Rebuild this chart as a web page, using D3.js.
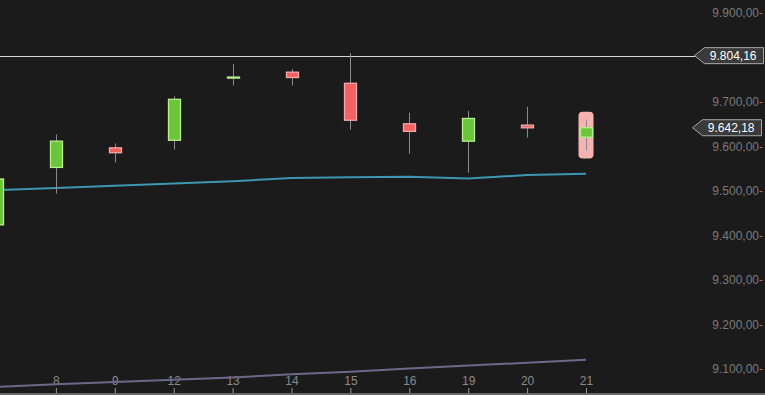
<!DOCTYPE html>
<html>
<head>
<meta charset="utf-8">
<script src="https://cdn.jsdelivr.net/npm/d3@7"></script>
<style>
  html, body { margin: 0; padding: 0; background: #1c1b1b; }
  svg { display: block; }
</style>
</head>
<body>
<svg id="chart" width="765" height="395"></svg>
<script>
// data
const days = ["7", "8", "9", "12", "13", "14", "15", "16", "19", "20", "21"];
const opens = [9424, 9553, 9597, 9614, 9754, 9767, 9742, 9651, 9612, 9648, 9621];
const highs = [9527, 9627, 9607, 9713, 9785, 9774, 9810, 9676, 9680, 9689, 9660];
const lows = [9424, 9494, 9564, 9593, 9737, 9737, 9638, 9584, 9541, 9620, 9591];
const closes = [9527, 9612, 9586, 9706, 9756, 9755, 9659, 9634, 9663, 9642, 9642.18];
const maFast = [9502, 9507, 9512, 9517, 9522, 9529, 9531, 9532, 9528, 9536, 9539];
const maSlow = [9060, 9066, 9071, 9076, 9081, 9088, 9094, 9101, 9108, 9114, 9121];
const yTicks = [9100, 9200, 9300, 9400, 9500, 9600, 9700, 9900];
const refLevel = 9804.16;
const lastPrice = 9642.18;

const svg = d3.select("#chart");
const width = +svg.attr("width");
const height = +svg.attr("height");

const xScale = d3.scalePoint()
  .domain(days)
  .range([-3, 586]);

const yScale = d3.scaleLinear()
  .domain([9100, 9900])
  .range([369, 13]);

const fmt = (v) => d3.format(",.2f")(v).replace(/,/g, "#").replace(".", ",").replace(/#/g, ".");

const bg = svg.append("rect").attr("width", width).attr("height", height).attr("fill", "#1c1b1b");

// y axis labels on the right
const yAxisG = svg.append("g")
  .attr("transform", `translate(${width - 2},0)`)
  .call(d3.axisRight(yScale).tickValues(yTicks).tickSize(0).tickFormat((d) => fmt(d) + "-"));
yAxisG.select(".domain").remove();
yAxisG.selectAll("text")
  .attr("x", 0)
  .attr("text-anchor", "end")
  .attr("fill", "#7a7a7a")
  .attr("font-family", "Liberation Sans, Arial, sans-serif")
  .attr("font-size", 12);

// x axis at the bottom
const xAxisG = svg.append("g")
  .attr("transform", `translate(0,${height - 2})`)
  .call(d3.axisTop(xScale).tickValues(days.slice(1)).tickSize(5).tickPadding(3));
xAxisG.select(".domain").remove();
xAxisG.selectAll("line").attr("stroke", "#9a9a9a");
xAxisG.selectAll("text")
  .attr("fill", "#8a8a8a")
  .attr("font-family", "Liberation Sans, Arial, sans-serif")
  .attr("font-size", 12);
svg.append("rect").attr("x", 0).attr("y", height - 2).attr("width", width).attr("height", 2).attr("fill", "#6a6a6a");

// reference level line
svg.append("line")
  .attr("x1", 0).attr("x2", 696)
  .attr("y1", Math.round(yScale(refLevel)) + 0.5).attr("y2", Math.round(yScale(refLevel)) + 0.5)
  .attr("stroke", "#d8d8d8").attr("stroke-width", 1);

// moving averages
const lineGen = (vals) => d3.line()
  .x((d, i) => xScale(days[i]))
  .y((d) => yScale(d))(vals);

svg.append("path").attr("d", lineGen(maSlow))
  .attr("fill", "none").attr("stroke", "#6c6889").attr("stroke-width", 2);
svg.append("path").attr("d", lineGen(maFast))
  .attr("fill", "none").attr("stroke", "#3b98b2").attr("stroke-width", 2);

// highlight for the last candle
const lastX = xScale(days[days.length - 1]);
svg.append("rect")
  .attr("x", lastX - 7.5).attr("width", 15)
  .attr("y", yScale(highs[highs.length - 1]) - 8)
  .attr("height", yScale(lows[lows.length - 1]) - yScale(highs[highs.length - 1]) + 16)
  .attr("rx", 4).attr("fill", "#f7b3b0");

// candles
const candleW = 12;
const candles = svg.append("g").selectAll("g")
  .data(days)
  .join("g");

candles.append("line")
  .attr("x1", (d) => Math.round(xScale(d)) + 0.5)
  .attr("x2", (d) => Math.round(xScale(d)) + 0.5)
  .attr("y1", (d, i) => yScale(highs[i]))
  .attr("y2", (d, i) => yScale(lows[i]))
  .attr("stroke", "#8a8a8a").attr("stroke-width", 1);

candles.append("rect")
  .attr("x", (d) => Math.round(xScale(d)) - candleW / 2 + 0.5)
  .attr("width", candleW)
  .attr("y", (d, i) => yScale(Math.max(opens[i], closes[i])))
  .attr("height", (d, i) => Math.max(1, Math.abs(yScale(opens[i]) - yScale(closes[i]))))
  .attr("fill", (d, i) => closes[i] >= opens[i] ? "#6cc43a" : "#f06262")
  .attr("stroke", (d, i) => closes[i] >= opens[i] ? "#b4f08c" : "#f9a6a6")
  .attr("stroke-width", 1.3);

// price labels with arrow shape
const priceTag = (value, x0) => {
  const y = yScale(value);
  const g = svg.append("g").attr("transform", `translate(${x0},${y})`);
  g.append("path")
    .attr("d", "M0,0 L10,-8 L69,-8 L69,8 L10,8 Z")
    .attr("fill", "#3a3a3a").attr("stroke", "#a8a8a8").attr("stroke-width", 1);
  g.append("text")
    .attr("x", 62).attr("y", 4.5)
    .attr("text-anchor", "end")
    .attr("fill", "#ffffff")
    .attr("font-family", "Liberation Sans, Arial, sans-serif")
    .attr("font-size", 12)
    .text(fmt(value));
};
priceTag(refLevel, 694.5);
priceTag(lastPrice, 692.5);
</script>
</body>
</html>
